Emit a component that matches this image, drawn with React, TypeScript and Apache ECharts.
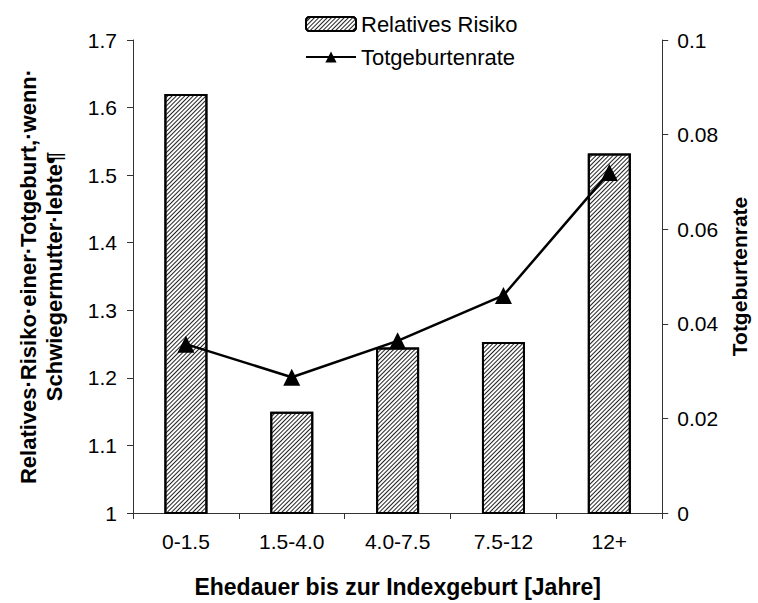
import React, { useEffect, useRef } from "react";
import * as echarts from "echarts";

const categories = ["0-1.5", "1.5-4.0", "4.0-7.5", "7.5-12", "12+"];
const relativesRisiko = [1.62, 1.15, 1.245, 1.253, 1.532];
const totgeburtenrate = [0.0357, 0.0287, 0.0364, 0.046, 0.072];
const leftTicks = { min: 1, max: 1.7, interval: 0.1 };
const rightTicks = { min: 0, max: 0.1, interval: 0.02 };

const FONT = "Liberation Sans";

export default function App() {
  const ref = useRef<HTMLDivElement>(null);
  useEffect(() => {
    if (!ref.current) return;
    const chart = echarts.init(ref.current, undefined, { renderer: "svg" });
    chart.setOption({
      animation: false,
      backgroundColor: "#fff",
      textStyle: { fontFamily: FONT },
      legend: {
        orient: "vertical",
        left: 300,
        top: 8,
        itemGap: 11,
        itemWidth: 50,
        itemHeight: 14,
        textStyle: { fontFamily: FONT, fontSize: 22, lineHeight: 22, color: "#000" },
        data: [{ name: "Relatives Risiko" }, { name: "Totgeburtenrate" }],
      },
      grid: { left: 133, right: 80, top: 40, bottom: 88 },
      xAxis: {
        type: "category",
        data: categories,
        name: "Ehedauer bis zur Indexgeburt [Jahre]",
        nameLocation: "middle",
        nameGap: 62,
        nameTextStyle: { fontFamily: FONT, fontSize: 23, fontWeight: "bold", color: "#000" },
        axisLine: { lineStyle: { color: "#333", width: 1 } },
        axisTick: { show: true, alignWithLabel: false, length: 6, lineStyle: { color: "#333" } },
        axisLabel: { fontFamily: FONT, fontSize: 21, color: "#000", margin: 18 },
      },
      yAxis: [
        {
          type: "value",
          min: leftTicks.min,
          max: leftTicks.max,
          interval: leftTicks.interval,
          name: "Relatives·Risiko·einer·Totgeburt,·wenn·\nSchwiegermutter·lebte¶",
          nameLocation: "middle",
          nameGap: 66,
          nameRotate: 90,
          nameTextStyle: { fontFamily: FONT, fontSize: 22, fontWeight: "bold", color: "#000", lineHeight: 26 },
          axisLine: { show: true, lineStyle: { color: "#333" } },
          axisTick: { show: true, length: 6, lineStyle: { color: "#333" } },
          axisLabel: { fontFamily: FONT, fontSize: 21, color: "#000", margin: 16, formatter: (v: number) => String(+v.toFixed(1)) },
          splitLine: { show: false },
        },
        {
          type: "value",
          min: rightTicks.min,
          max: rightTicks.max,
          interval: rightTicks.interval,
          name: "Totgeburtenrate",
          nameLocation: "middle",
          nameGap: 58,
          nameRotate: 90,
          nameTextStyle: { fontFamily: FONT, fontSize: 21, fontWeight: "bold", color: "#000" },
          axisLine: { show: true, lineStyle: { color: "#333" } },
          axisTick: { show: true, length: 6, lineStyle: { color: "#333" } },
          axisLabel: { fontFamily: FONT, fontSize: 21, color: "#000", margin: 15, formatter: (v: number) => String(+v.toFixed(2)) },
          splitLine: { show: false },
        },
      ],
      series: [
        {
          name: "Relatives Risiko",
          type: "bar",
          yAxisIndex: 0,
          data: relativesRisiko,
          barWidth: 43,
          itemStyle: {
            color: "#fff",
            borderColor: "#000",
            borderWidth: 2,
            decal: {
              symbol: "rect",
              symbolSize: 1,
              color: "#222",
              dashArrayX: [1, 0],
              dashArrayY: [1, 2],
              rotation: -Math.PI / 4,
            },
          },
        },
        {
          name: "Totgeburtenrate",
          type: "line",
          yAxisIndex: 1,
          data: totgeburtenrate,
          symbol: "triangle",
          symbolSize: 17,
          lineStyle: { color: "#000", width: 2.5 },
          itemStyle: { color: "#000" },
        },
      ],
    });
    return () => chart.dispose();
  }, []);
  return <div ref={ref} style={{ width: 758, height: 603, position: "absolute", left: 0, top: 0 }} />;
}
